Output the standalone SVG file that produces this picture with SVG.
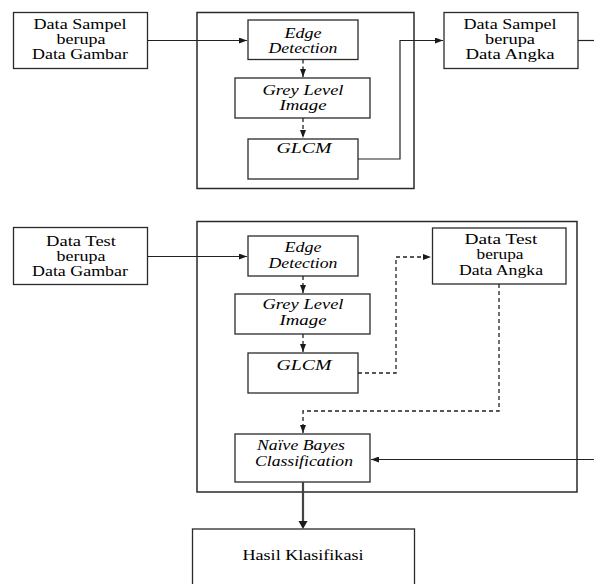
<svg xmlns="http://www.w3.org/2000/svg" width="594" height="584" viewBox="0 0 594 584">
  <defs>
    <marker id="arr" markerWidth="8" markerHeight="6" refX="8" refY="3" orient="auto" markerUnits="userSpaceOnUse">
      <path d="M0,0 L8,3 L0,6 Z" fill="#1a1a1a"/>
    </marker>
    <style>
      .box { fill: #ffffff; stroke: #2a2a2a; stroke-width: 1.3; }
      .frame { fill: none; stroke: #2a2a2a; stroke-width: 1.5; }
      .t { font-family: "Liberation Serif", "Times New Roman", serif; font-size: 15px; fill: #000000; text-anchor: middle; }
      .ti { font-family: "Liberation Serif", "Times New Roman", serif; font-size: 15px; font-style: italic; fill: #000000; text-anchor: middle; }
      .line { fill: none; stroke: #222222; stroke-width: 1.2; }
      .dash { fill: none; stroke: #222222; stroke-width: 1.3; stroke-dasharray: 4 3; }
      .thick { fill: none; stroke: #444444; stroke-width: 2.2; }
    </style>
  </defs>

  <rect width="594" height="584" fill="#ffffff"/>

  <!-- process frames -->
  <g id="frame-training">
    <rect class="frame" x="197" y="12.5" width="217" height="176"/>
  </g>
  <g id="frame-testing">
    <rect class="frame" x="197" y="221.5" width="380" height="270.5"/>
  </g>

  <!-- training stage -->
  <g id="sampel-gambar">
    <rect class="box" x="13.5" y="12.5" width="134" height="56"/>
    <text class="t" x="80" y="29" textLength="93" lengthAdjust="spacingAndGlyphs">Data Sampel</text>
    <text class="t" x="81" y="44" textLength="49" lengthAdjust="spacingAndGlyphs">berupa</text>
    <text class="t" x="80" y="59" textLength="96" lengthAdjust="spacingAndGlyphs">Data Gambar</text>
  </g>
  <g id="edge-1">
    <rect class="box" x="248" y="20" width="110" height="39.5"/>
    <text class="ti" x="303" y="38" textLength="37" lengthAdjust="spacingAndGlyphs">Edge</text>
    <text class="ti" x="303" y="53" textLength="69" lengthAdjust="spacingAndGlyphs">Detection</text>
  </g>
  <g id="grey-1">
    <rect class="box" x="235" y="78" width="135" height="40"/>
    <text class="ti" x="303" y="95" textLength="81" lengthAdjust="spacingAndGlyphs">Grey Level</text>
    <text class="ti" x="303" y="110" textLength="47" lengthAdjust="spacingAndGlyphs">Image</text>
  </g>
  <g id="glcm-1">
    <rect class="box" x="248" y="139" width="110" height="40"/>
    <text class="ti" x="304" y="153" textLength="55" lengthAdjust="spacingAndGlyphs">GLCM</text>
  </g>
  <g id="sampel-angka">
    <rect class="box" x="444" y="12.5" width="134" height="56"/>
    <text class="t" x="510" y="29" textLength="93" lengthAdjust="spacingAndGlyphs">Data Sampel</text>
    <text class="t" x="510" y="44" textLength="50" lengthAdjust="spacingAndGlyphs">berupa</text>
    <text class="t" x="510" y="59" textLength="89" lengthAdjust="spacingAndGlyphs">Data Angka</text>
  </g>

  <!-- testing stage -->
  <g id="test-gambar">
    <rect class="box" x="13.5" y="227.5" width="134" height="57"/>
    <text class="t" x="81" y="246" textLength="70" lengthAdjust="spacingAndGlyphs">Data Test</text>
    <text class="t" x="81" y="261" textLength="49" lengthAdjust="spacingAndGlyphs">berupa</text>
    <text class="t" x="80" y="276" textLength="96" lengthAdjust="spacingAndGlyphs">Data Gambar</text>
  </g>
  <g id="edge-2">
    <rect class="box" x="248" y="236" width="110" height="40"/>
    <text class="ti" x="303" y="252" textLength="37" lengthAdjust="spacingAndGlyphs">Edge</text>
    <text class="ti" x="303" y="268" textLength="69" lengthAdjust="spacingAndGlyphs">Detection</text>
  </g>
  <g id="grey-2">
    <rect class="box" x="235" y="294" width="135" height="40"/>
    <text class="ti" x="303" y="309" textLength="81" lengthAdjust="spacingAndGlyphs">Grey Level</text>
    <text class="ti" x="303" y="325" textLength="47" lengthAdjust="spacingAndGlyphs">Image</text>
  </g>
  <g id="glcm-2">
    <rect class="box" x="248" y="353" width="110" height="40"/>
    <text class="ti" x="304" y="370" textLength="55" lengthAdjust="spacingAndGlyphs">GLCM</text>
  </g>
  <g id="test-angka">
    <rect class="box" x="432.5" y="228" width="133.5" height="56"/>
    <text class="t" x="501" y="244" textLength="73" lengthAdjust="spacingAndGlyphs">Data Test</text>
    <text class="t" x="500" y="259" textLength="47" lengthAdjust="spacingAndGlyphs">berupa</text>
    <text class="t" x="501" y="275" textLength="84" lengthAdjust="spacingAndGlyphs">Data Angka</text>
  </g>
  <g id="naive-bayes">
    <rect class="box" x="235" y="434" width="135" height="48"/>
    <text class="ti" x="301" y="450" textLength="88" lengthAdjust="spacingAndGlyphs">Naïve Bayes</text>
    <text class="ti" x="304" y="466" textLength="98" lengthAdjust="spacingAndGlyphs">Classification</text>
  </g>
  <g id="hasil">
    <rect class="box" x="192.5" y="529" width="222" height="60"/>
    <text class="t" x="303" y="560" textLength="121" lengthAdjust="spacingAndGlyphs">Hasil Klasifikasi</text>
  </g>

  <!-- connectors -->
  <g id="connectors">
    <path class="line" d="M147.5,40.5 H247" marker-end="url(#arr)"/>
    <path class="dash" d="M303,59.5 V77" marker-end="url(#arr)"/>
    <path class="dash" d="M303,118 V138" marker-end="url(#arr)"/>
    <path class="line" d="M358,159 H400 V40.5 H443" marker-end="url(#arr)"/>
    <path class="line" d="M578,40.5 H594"/>

    <path class="line" d="M147.5,256.5 H247" marker-end="url(#arr)"/>
    <path class="dash" d="M303,276 V293" marker-end="url(#arr)"/>
    <path class="dash" d="M303,334 V352" marker-end="url(#arr)"/>
    <path class="dash" d="M358,373 H396 V257 H431" marker-end="url(#arr)"/>
    <path class="dash" d="M499,284 V411 H303 V433" marker-end="url(#arr)"/>
    <path class="line" d="M594,459.5 H371" marker-end="url(#arr)"/>
    <path class="thick" d="M303,482 V522"/>
    <path d="M298.5,521 L303,529 L307.5,521 Z" fill="#1a1a1a"/>
  </g>
</svg>
